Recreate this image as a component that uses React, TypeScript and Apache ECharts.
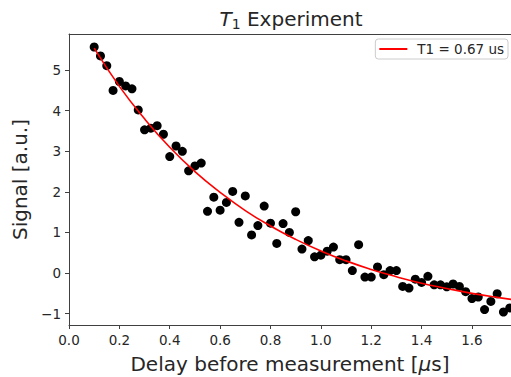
import { useEffect, useRef } from "react";
import * as echarts from "echarts";

const delays = [
  0.1, 0.125, 0.15, 0.175, 0.2, 0.225, 0.25, 0.275, 0.3, 0.325, 0.35, 0.375,
  0.4, 0.425, 0.45, 0.475, 0.5, 0.525, 0.55, 0.575, 0.6, 0.625, 0.65, 0.675,
  0.7, 0.725, 0.75, 0.775, 0.8, 0.825, 0.85, 0.875, 0.9, 0.925, 0.95, 0.975,
  1.0, 1.025, 1.05, 1.075, 1.1, 1.125, 1.15, 1.175, 1.2, 1.225, 1.25, 1.275,
  1.3, 1.325, 1.35, 1.375, 1.4, 1.425, 1.45, 1.475, 1.5, 1.525, 1.55, 1.575,
  1.6, 1.625, 1.65, 1.675, 1.7, 1.725, 1.75,
];
const signal = [
  5.57, 5.35, 5.11, 4.5, 4.72, 4.61, 4.54, 4.02, 3.53, 3.57, 3.63, 3.42,
  2.87, 3.13, 3.0, 2.52, 2.64, 2.71, 1.52, 1.87, 1.55, 1.74, 2.01, 1.25,
  1.9, 0.94, 1.17, 1.65, 1.23, 0.73, 1.22, 1.0, 1.51, 0.59, 0.8, 0.4,
  0.44, 0.54, 0.64, 0.33, 0.33, 0.06, 0.7, -0.1, -0.1, 0.15, -0.04, 0.06,
  0.06, -0.33, -0.37, -0.15, -0.23, -0.08, -0.29, -0.29, -0.34, -0.27, -0.33, -0.46,
  -0.63, -0.59, -0.9, -0.7, -0.51, -0.96, -0.86,
];
const fitDelays = [0.1, 0.2, 0.3, 0.4, 0.5, 0.6, 0.7, 0.8, 0.9, 1.0, 1.1, 1.2, 1.3, 1.4, 1.5, 1.6, 1.7, 1.8];
const fitSignal = [5.54, 4.6, 3.8, 3.1, 2.5, 1.99, 1.54, 1.16, 0.83, 0.545, 0.3, 0.09, -0.09, -0.25, -0.38, -0.5, -0.6, -0.685];
const xTicks = [0, 0.2, 0.4, 0.6, 0.8, 1.0, 1.2, 1.4, 1.6];
const yTicks = [-1, 0, 1, 2, 3, 4, 5];
const fitLabel = "T1 = 0.67 us";
const titleText = "{i|T}{s|1} Experiment";
const xName = "Delay before measurement [{m|μ}s]";
const yName = "Signal [a.u.]";

const FONT = "DejaVu Sans";
const TXT = "#262626";
const AX = "#404040";

export default function App() {
  const ref = useRef<HTMLDivElement>(null);
  useEffect(() => {
    const chart = echarts.init(ref.current!, null, { renderer: "svg" });
    const X_MIN = 0;
    const X_MAX = 1.755;
    chart.setOption({
      animation: false,
      backgroundColor: "#ffffff",
      textStyle: { fontFamily: FONT },
      grid: { left: 69, right: 0, top: 34, bottom: 52, containLabel: false, outerBoundsMode: "none" },
      graphic: [
        {
          type: "text",
          x: 291,
          y: 19,
          style: {
            text: titleText,
            align: "center",
            verticalAlign: "middle",
            fontFamily: FONT,
            fontSize: 20,
            fill: TXT,
            rich: {
              i: { fontStyle: "italic", fontSize: 20, fontFamily: FONT, lineHeight: 24, fill: TXT },
              s: { fontSize: 14, fontFamily: FONT, lineHeight: 14, verticalAlign: "bottom", fill: TXT },
            },
          },
        },
      ],
      legend: {
        show: true,
        data: [{ name: fitLabel, icon: "rect" }],
        right: 3,
        top: 39,
        itemWidth: 28,
        itemHeight: 2,
        padding: [3, 4, 3, 4],
        borderColor: "#cccccc",
        borderWidth: 1,
        borderRadius: 3,
        backgroundColor: "#ffffff",
        textStyle: { fontFamily: FONT, fontSize: 13.5, color: TXT, padding: [0, 0, 0, 5] },
      },
      xAxis: [
        {
          type: "value",
          min: X_MIN,
          max: X_MAX,
          name: xName,
          nameLocation: "middle",
          nameGap: 29,
          nameTextStyle: {
            fontFamily: FONT,
            fontSize: 20,
            color: TXT,
            rich: { m: { fontStyle: "italic", fontSize: 20, fontFamily: FONT, color: TXT } },
          },
          axisLine: { show: true, onZero: false, lineStyle: { color: AX, width: 1 } },
          axisTick: { show: true, length: 4, customValues: xTicks, lineStyle: { color: AX } },
          axisLabel: {
            customValues: xTicks,
            formatter: (v: number) => v.toFixed(1),
            fontFamily: FONT,
            fontSize: 13.5,
            color: TXT,
            margin: 8,
          },
          splitLine: { show: false },
        },
        {
          type: "value",
          position: "top",
          min: X_MIN,
          max: X_MAX,
          axisLine: { show: true, onZero: false, lineStyle: { color: AX, width: 1 } },
          axisTick: { show: false },
          axisLabel: { show: false },
          splitLine: { show: false },
        },
      ],
      yAxis: {
        type: "value",
        min: -1.28,
        max: 5.89,
        name: yName,
        nameLocation: "middle",
        nameGap: 34,
        nameTextStyle: { fontFamily: FONT, fontSize: 20, color: TXT },
        axisLine: { show: true, onZero: false, lineStyle: { color: AX, width: 1 } },
        axisTick: { show: true, length: 4, customValues: yTicks, lineStyle: { color: AX } },
        axisLabel: {
          customValues: yTicks,
          formatter: (v: number) => (v < 0 ? "\u2212" + Math.abs(v) : String(v)),
          fontFamily: FONT,
          fontSize: 13.5,
          color: TXT,
          margin: 8,
        },
        splitLine: { show: false },
      },
      series: [
        {
          name: "data",
          type: "scatter",
          data: delays.map((x, i) => [x, signal[i]]),
          symbol: "circle",
          symbolSize: 9,
          itemStyle: { color: "#000000", opacity: 1 },
          z: 2,
        },
        {
          name: fitLabel,
          type: "line",
          data: fitDelays.map((x, i) => [x, fitSignal[i]]),
          showSymbol: false,
          symbol: "none",
          smooth: true,
          clip: true,
          lineStyle: { color: "#ff0000", width: 1.6 },
          itemStyle: { color: "#ff0000" },
          z: 3,
        },
      ],
    });
    return () => chart.dispose();
  }, []);
  return (
    <div
      ref={ref}
      style={{ position: "fixed", left: 0, top: 0, width: 511, height: 377 }}
    />
  );
}
